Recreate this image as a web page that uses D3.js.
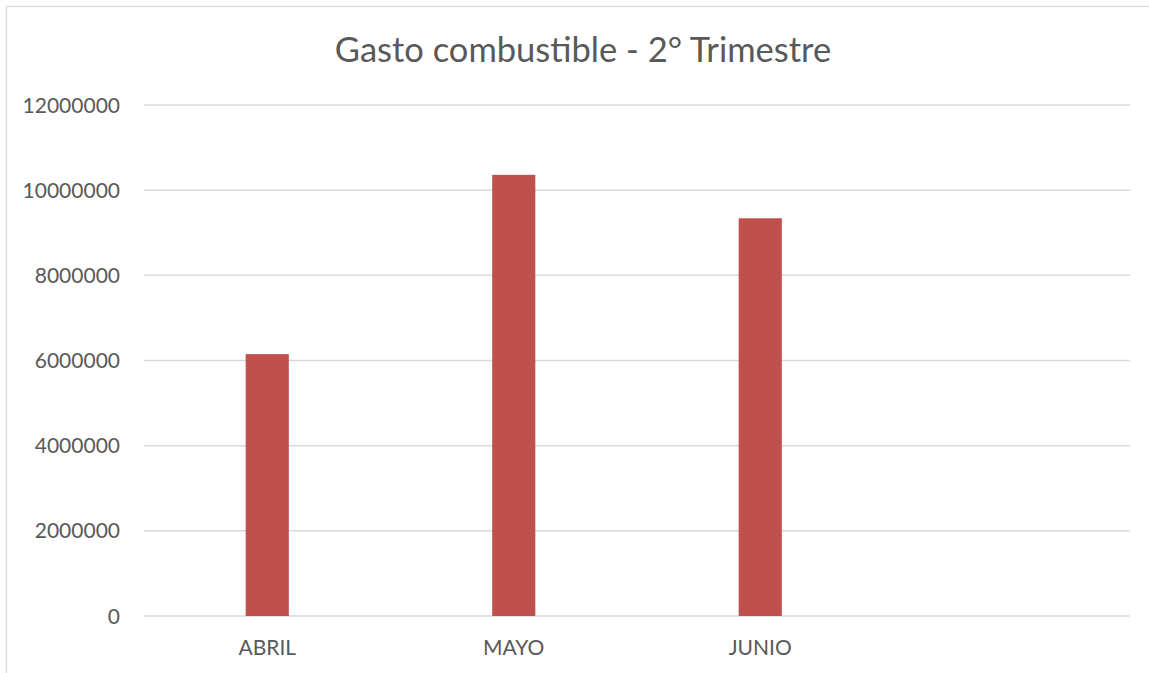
<!DOCTYPE html>
<html>
<head>
<meta charset="utf-8">
<script src="https://cdn.jsdelivr.net/npm/d3@7"></script>
<style>
  body { margin: 0; background: #fff; }
  svg { display: block; font-family: Lato, "Open Sans", sans-serif; }
</style>
</head>
<body>
<svg width="1149" height="673"></svg>
<script>
// categories (the 4th slot is empty in the original chart)
const categories = ["ABRIL", "MAYO", "JUNIO", ""];
const gasto = [6150000, 10360000, 9340000, null];
const yTicks = [0, 2000000, 4000000, 6000000, 8000000, 10000000, 12000000];
const title = "Gasto combustible - 2° Trimestre";

const svg = d3.select("svg");
const width = +svg.attr("width");
const height = +svg.attr("height");
const margin = {top: 105, right: 19, bottom: 57, left: 144};

// chart frame
svg.append("rect")
  .attr("x", 6.5).attr("y", 6.5)
  .attr("width", width + 10).attr("height", height + 10)
  .attr("fill", "none")
  .attr("stroke", "#d9d9d9")
  .attr("stroke-width", 1.2);

const x = d3.scaleBand()
  .domain(categories)
  .range([margin.left, width - margin.right]);

const y = d3.scaleLinear()
  .domain([0, 12000000])
  .range([height - margin.bottom, margin.top]);

// gridlines
svg.append("g")
  .selectAll("line")
  .data(yTicks)
  .join("line")
    .attr("x1", margin.left)
    .attr("x2", width - margin.right)
    .attr("y1", d => y(d))
    .attr("y2", d => y(d))
    .attr("stroke", "#d9d9d9")
    .attr("stroke-width", 1.5);

// y labels
svg.append("g")
  .selectAll("text")
  .data(yTicks)
  .join("text")
    .attr("x", 120)
    .attr("y", d => y(d))
    .attr("dy", "0.36em")
    .attr("text-anchor", "end")
    .attr("fill", "#595959")
    .style("font-size", "21px")
    .text(d => d);

// bars
const barW = x.bandwidth() * 0.175;
svg.append("g")
  .selectAll("rect")
  .data(categories.map((c, i) => ({c, v: gasto[i]})).filter(d => d.v != null))
  .join("rect")
    .attr("x", d => x(d.c) + x.bandwidth() / 2 - barW / 2)
    .attr("y", d => y(d.v))
    .attr("width", barW)
    .attr("height", d => y(0) - y(d.v))
    .attr("fill", "#c0504d");

// x labels
svg.append("g")
  .selectAll("text")
  .data(categories)
  .join("text")
    .attr("x", d => x(d) + x.bandwidth() / 2)
    .attr("y", 655)
    .attr("text-anchor", "middle")
    .attr("fill", "#595959")
    .style("font-size", "21px")
    .text(d => d);

// title
svg.append("text")
  .attr("x", 583)
  .attr("y", 62)
  .attr("text-anchor", "middle")
  .attr("fill", "#595959")
  .style("font-size", "34.5px")
  .text(title);
</script>
</body>
</html>
